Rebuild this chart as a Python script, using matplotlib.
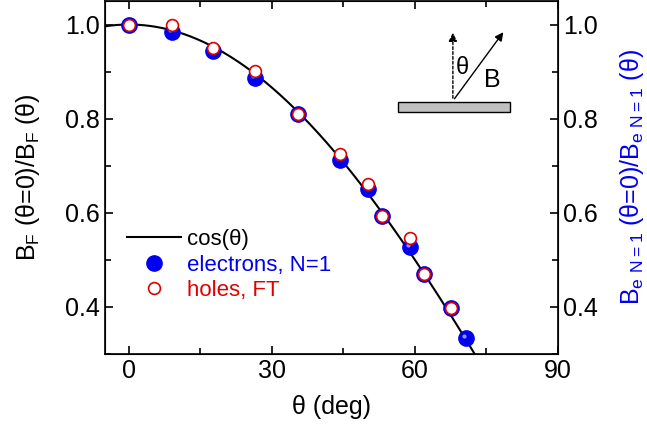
import numpy as np
import matplotlib
matplotlib.use("Agg")
import matplotlib.pyplot as plt
import matplotlib.transforms as mtransforms
from matplotlib.patches import Rectangle, FancyArrowPatch

plt.rcParams["font.family"] = ["Liberation Sans", "DejaVu Sans"]
plt.rcParams["mathtext.fontset"] = "custom"
plt.rcParams["mathtext.rm"] = "Liberation Sans"

# ------------------------------------------------------------
# data
# ------------------------------------------------------------
theta_e = [0.0, 9.0, 17.7, 26.4, 35.4, 44.2, 50.2, 53.0, 58.9, 61.9, 67.6, 70.8]
ratio_e = [1.000, 0.985, 0.944, 0.887, 0.809, 0.712, 0.650, 0.594, 0.527, 0.469, 0.398, 0.334]

theta_h = [0.0, 9.0, 17.7, 26.4, 35.4, 44.2, 50.2, 53.0, 58.9, 61.9, 67.6]
ratio_h = [1.000, 1.000, 0.951, 0.902, 0.809, 0.724, 0.662, 0.594, 0.547, 0.469, 0.397]

xticks = [0, 30, 60, 90]
yticks = [0.4, 0.6, 0.8, 1.0]

blue = "#0000ee"
red = "#e00000"

# ------------------------------------------------------------
# figure
# ------------------------------------------------------------
fig = plt.figure(figsize=(6.47, 4.33), dpi=100)
ax = fig.add_axes([0.1623, 0.1824, 0.7001, 0.8153])

th = np.linspace(-5, 90, 400)
ax.plot(th, np.cos(np.radians(th)), color="black", lw=1.5, label="cos(θ)", zorder=2)

ax.plot(theta_e, ratio_e, "o", ms=11, mfc=blue, mec=blue, mew=1,
        label="electrons, N=1", zorder=3)
# small highlight on each sphere
hl = ax.transData + mtransforms.ScaledTranslation(-1.5 / 72, 1.5 / 72, fig.dpi_scale_trans)
ax.plot(theta_e, ratio_e, "o", ms=3, mfc="#9090ff", mec="none", transform=hl, zorder=3)
ax.plot(theta_h, ratio_h, "o", ms=8.5, mfc="white", mec=red, mew=1.2,
        label="holes, FT", zorder=4)

ax.set_xlim(-5, 90)
ax.set_ylim(0.3, 1.05)
ax.set_xticks(xticks)
ax.set_xticks(np.arange(15, 90, 30), minor=True)
ax.set_yticks(yticks)
ax.set_yticks(np.arange(0.3, 1.05, 0.2), minor=True)
ax.set_yticklabels([f"{v:.1f}" for v in yticks])
ax.tick_params(which="both", direction="in", top=True, labelsize=18, width=1.2)
ax.tick_params(which="major", length=6)
ax.tick_params(which="minor", length=4)
for sp in ax.spines.values():
    sp.set_linewidth(1.2)

ax.set_xlabel("θ (deg)", fontsize=18, labelpad=9)
ax.set_ylabel(r"B$_\mathregular{F}$ (θ=0)/B$_\mathregular{F}$ (θ)", fontsize=18)
ax.yaxis.set_label_coords(-0.139, 0.5)

ax2 = ax.twinx()
ax2.set_ylim(0.3, 1.05)
ax2.set_yticks(yticks)
ax2.set_yticks(np.arange(0.3, 1.05, 0.2), minor=True)
ax2.set_yticklabels([f"{v:.1f}" for v in yticks])
ax2.tick_params(which="both", direction="in", labelsize=18, width=1.2)
ax2.tick_params(which="major", length=6)
ax2.tick_params(which="minor", length=4)
ax2.set_ylabel(r"B$_\mathregular{e\ N=1}$ (θ=0)/B$_\mathregular{e\ N=1}$ (θ)",
               fontsize=18, color=blue)
ax2.yaxis.set_label_coords(1.132, 0.5)

leg = ax.legend(loc="center left", bbox_to_anchor=(0.049, 0.252), frameon=False,
                fontsize=16, borderpad=0, borderaxespad=0, handlelength=2.4,
                handletextpad=0.3, labelspacing=0.2,
                labelcolor=["black", blue, red])

# inset sketch: field B at angle theta to the surface normal
ax.add_patch(Rectangle((0.647, 0.686), 0.247, 0.029, transform=ax.transAxes,
                       facecolor="#c0c0c0", edgecolor="black", lw=1, zorder=5))
ax.add_patch(FancyArrowPatch((0.768, 0.717), (0.768, 0.918), transform=ax.transAxes,
                             arrowstyle="-|>,head_length=5,head_width=2.5",
                             linestyle=(0, (2, 1.5)), color="black", lw=1, zorder=5))
ax.add_patch(FancyArrowPatch((0.768, 0.717), (0.883, 0.918), transform=ax.transAxes,
                             arrowstyle="-|>,head_length=5,head_width=2.5",
                             color="black", lw=1, zorder=5))
ax.text(0.788, 0.810, "θ", transform=ax.transAxes, fontsize=17,
        ha="center", va="center")
ax.text(0.854, 0.776, "B", transform=ax.transAxes, fontsize=18, ha="center", va="center")

fig.savefig("out.png", dpi=100)
